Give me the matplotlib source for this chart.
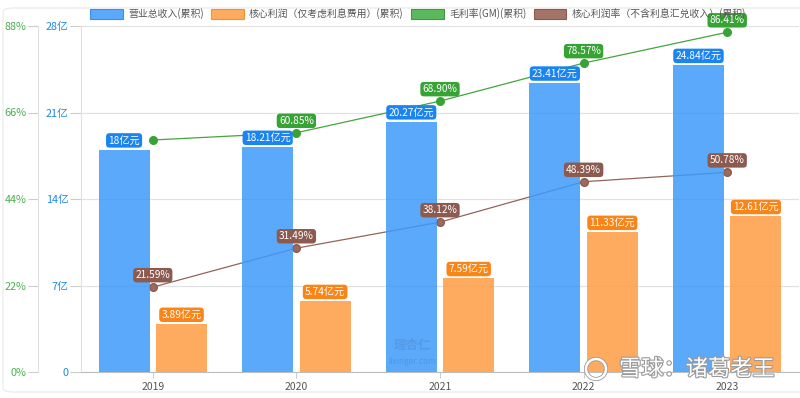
import matplotlib
matplotlib.use("Agg")
import matplotlib.pyplot as plt
import matplotlib.patches as mpatches
import matplotlib.patheffects as pe
import numpy as np

plt.rcParams['font.family'] = ['Noto Sans CJK SC', 'DejaVu Sans']

years = ['2019', '2020', '2021', '2022', '2023']
revenue = [18.0, 18.21, 20.27, 23.41, 24.84]          # 亿元
core_profit = [3.89, 5.74, 7.59, 11.33, 12.61]        # 亿元
gross_margin = [59.01, 60.85, 68.90, 78.57, 86.41]    # %
core_margin = [21.59, 31.49, 38.12, 48.39, 50.78]     # %
gm_label_shown = [False, True, True, True, True]

series_names = ['营业总收入(累积)', '核心利润（仅考虑利息费用）(累积)',
                '毛利率(GM)(累积)', '核心利润率（不含利息汇兑收入）(累积)']

blue_bar, blue_lbl = '#3e9afb', '#1a84f0'
orange_bar, orange_lbl = '#ff9c43', '#fb8417'
green_line, green_lbl = '#45a53e', '#38a335'
brown_line, brown_lbl = '#94645a', '#8c5a4f'

fig = plt.figure(figsize=(8, 3.98), dpi=100)
ax = fig.add_axes([81 / 800, 26 / 398, 718 / 800, 346 / 398])
ax2 = ax.twinx()

x = np.arange(len(years))
w = 0.355

# lines (ax2) sit beneath the semi-transparent bars (ax)
ax.set_zorder(2)
ax2.set_zorder(1)
ax.patch.set_visible(False)

ax2.plot(x, gross_margin, color=green_line, lw=0.9, marker='o', ms=5.5,
         mfc=green_lbl, mec=green_lbl, zorder=2)
ax2.plot(x, core_margin, color=brown_line, lw=0.9, marker='o', ms=5.5,
         mfc='#9b6a5f', mec='#8c5a4f', zorder=2)

ax.bar(x - 0.2, revenue, w, color=blue_bar, alpha=0.85, zorder=3)
ax.bar(x + 0.2, core_profit, w, color=orange_bar, alpha=0.85, zorder=3)

ax.set_xlim(-0.5, 4.5)
ax.set_ylim(0, 28)
ax2.set_ylim(0, 88)

def tag(axis, xv, yv, text, bg, dy):
    axis.annotate(text, xy=(xv, yv), xytext=(0, dy), textcoords='offset points',
                  ha='center', va='bottom', fontsize=7.3, color='white', zorder=6,
                  bbox=dict(boxstyle='round,pad=0.22,rounding_size=0.35',
                            fc=bg, ec='none'))

for i in range(len(years)):
    tag(ax, x[i] - 0.2, revenue[i], f'{revenue[i]:g}亿元', blue_lbl, 3)
    tag(ax, x[i] + 0.2, core_profit[i], f'{core_profit[i]:.2f}亿元', orange_lbl, 3)

# percent labels go on the top axes so bars don't hide them
for i in range(len(years)):
    if gm_label_shown[i]:
        tag(ax, x[i], gross_margin[i] * 28 / 88, f'{gross_margin[i]:.2f}%', green_lbl, 5)
    tag(ax, x[i], core_margin[i] * 28 / 88, f'{core_margin[i]:.2f}%', brown_lbl, 5)

# axes styling
ax.set_xticks(x)
ax.set_xticklabels(years)
ax.set_yticks([0, 7, 14, 21, 28])
ax.set_yticklabels(['0', '7亿', '14亿', '21亿', '28亿'])
ax.tick_params(axis='y', colors='#cccccc', labelcolor='#1e88e5', labelsize=7.8,
               length=8, width=0.8, pad=1)
ax.tick_params(axis='x', colors='#cccccc', labelcolor='#555555', labelsize=7.5,
               length=4, width=0.8, pad=3)
ax.grid(False)

ax2.yaxis.tick_left()
ax2.yaxis.set_label_position('left')
ax2.spines['left'].set_position(('outward', 31))
ax2.set_yticks([0, 22, 44, 66, 88])
ax2.set_yticklabels(['0%', '22%', '44%', '66%', '88%'])
ax2.tick_params(axis='y', colors='#cccccc', labelcolor='#4caf50', labelsize=7.8,
                length=7, width=0.8, pad=1)
ax2.grid(True, color='#e2e2e2', lw=0.9, zorder=0)
ax2.set_axisbelow(True)

for a in (ax, ax2):
    for side in ('top', 'right'):
        a.spines[side].set_visible(False)
    a.spines['left'].set_color('#e0e0e0')
    a.spines['bottom'].set_color('#bdbdbd')
ax2.spines['bottom'].set_visible(False)

# legend
handles = [
    mpatches.Patch(fc='#5ba9fc', ec='#3b8fe6', lw=0.8),
    mpatches.Patch(fc='#ffab5f', ec='#f39034', lw=0.8),
    mpatches.Patch(fc='#5cb85c', ec='#3e9b3e', lw=0.8),
    mpatches.Patch(fc='#a57468', ec='#8c5a4f', lw=0.8),
]
leg = fig.legend(handles, series_names, loc='center', bbox_to_anchor=(418 / 800, 1 - 14 / 398),
                 ncol=4, frameon=False, fontsize=7.1, handlelength=3.3, handleheight=1.15,
                 handletextpad=0.55, columnspacing=0.75, borderaxespad=0)
for t in leg.get_texts():
    t.set_color('#555555')

# watermarks
fig.text(412 / 800, 1 - 346 / 398, '理杏仁', fontsize=9, color='#4a7fc0', alpha=0.35,
         ha='center', va='center', fontweight='bold')
fig.text(412 / 800, 1 - 361 / 398, 'lixinger.com', fontsize=6, color='#4a7fc0', alpha=0.45,
         ha='center', va='center')
shadow = [pe.withStroke(linewidth=1.6, foreground='#9a9a9a')]
fig.text(697 / 800, 1 - 369 / 398, '雪球：诸葛老王', fontsize=16, color='white',
         ha='center', va='center', path_effects=shadow, zorder=10)
logo = mpatches.Ellipse((596 / 800, 1 - 369 / 398), 20 / 800, 20 / 398, transform=fig.transFigure,
                        fc='none', ec='white', lw=1.8, zorder=10,
                        path_effects=[pe.withStroke(linewidth=3, foreground='#9a9a9a')])
fig.patches.append(logo)

# card border
fig.patches.append(mpatches.FancyBboxPatch((3 / 800, 6 / 398), 830 / 800, 384 / 398,
                                           boxstyle='round,pad=0,rounding_size=0.012',
                                           transform=fig.transFigure, fc='none',
                                           ec='#e8e8e8', lw=0.8, zorder=-1))

fig.savefig('out.png', dpi=100, facecolor='white')
